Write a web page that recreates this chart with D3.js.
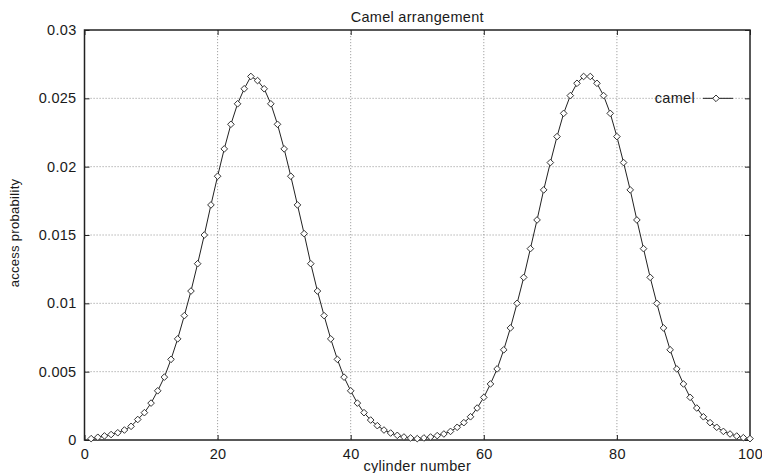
<!DOCTYPE html>
<html>
<head>
<meta charset="utf-8">
<script src="https://cdn.jsdelivr.net/npm/d3@7"></script>
<style>
    body { margin: 0; background: #fff; }
    .text { font-family: "Liberation Sans", Arial, Helvetica, sans-serif; fill: #1a1a1a; letter-spacing: 0.3px; }
    .grid line { stroke: #8a8a8a; stroke-width: 0.8; stroke-dasharray: 1.2, 1.8; }
</style>
</head>
<body>
<div id="chart"></div>
<script>
// Cylinder numbers 1..100
const cylinders = d3.range(1, 101);

// Access probability, cylinders 1..100
const camel = [
    0.0001, 0.0002, 0.0003, 0.0004, 0.00053, 0.00073, 0.001, 0.0015, 0.002, 0.0027,
    0.0036, 0.0046, 0.0059, 0.0074, 0.0091, 0.0109, 0.0129, 0.0150, 0.0172, 0.0193,
    0.0213, 0.0231, 0.0246, 0.0257, 0.0266, 0.0263, 0.0257, 0.0246, 0.0231, 0.0213,
    0.0193, 0.0172, 0.0151, 0.0129, 0.0109, 0.0091, 0.0074, 0.0059, 0.0046, 0.0036,
    0.0027, 0.0020, 0.00146, 0.00105, 0.00073, 0.00051, 0.00034, 0.00022, 0.00015, 0.0001,
    0.00015, 0.00022, 0.00032, 0.00044, 0.00063, 0.00093, 0.00127, 0.0017, 0.00234, 0.00312,
    0.0041, 0.0052, 0.0066, 0.0082, 0.0100, 0.0119, 0.0140, 0.0161, 0.0183, 0.0203,
    0.0222, 0.0239, 0.0252, 0.0261, 0.0266, 0.0266, 0.0261, 0.0252, 0.0239, 0.0222,
    0.0203, 0.0183, 0.0161, 0.0140, 0.0119, 0.0100, 0.0082, 0.0066, 0.0052, 0.0041,
    0.00312, 0.00234, 0.0017, 0.00127, 0.00093, 0.00063, 0.00044, 0.00029, 0.00017, 0.0001
];

// Tick values
const xTicks = [0, 20, 40, 60, 80, 100];
const yTicks = [0, 0.005, 0.01, 0.015, 0.02, 0.025, 0.03];
const yTickLabels = ["0", "0.005", "0.01", "0.015", "0.02", "0.025", "0.03"];

const data = cylinders.map((c, i) => ({ x: c, y: camel[i] }));

// Graph dimensions
const dimensions = {
    width: 762,
    height: 473,
    margins: { top: 30, right: 12, bottom: 33, left: 84.5 },
};
dimensions.bordWidth = dimensions.width - dimensions.margins.left - dimensions.margins.right;
dimensions.bordHeight = dimensions.height - dimensions.margins.top - dimensions.margins.bottom;

const xScale = d3.scaleLinear().domain([0, 100]).range([0, dimensions.bordWidth]);
const yScale = d3.scaleLinear().domain([0, 0.03]).range([dimensions.bordHeight, 0]);

const svg = d3.select("#chart")
    .append("svg")
    .attr("width", dimensions.width)
    .attr("height", dimensions.height);

const bounds = svg.append("g")
    .attr("transform", `translate(${dimensions.margins.left}, ${dimensions.margins.top})`);

// Dotted grid
const grid = bounds.append("g").attr("class", "grid");
grid.selectAll(".gx")
    .data(xTicks.slice(1, -1))
    .enter().append("line")
    .attr("x1", d => xScale(d)).attr("x2", d => xScale(d))
    .attr("y1", 0).attr("y2", dimensions.bordHeight);
grid.selectAll(".gy")
    .data(yTicks.slice(1, -1))
    .enter().append("line")
    .attr("x1", 0).attr("x2", dimensions.bordWidth)
    .attr("y1", d => yScale(d)).attr("y2", d => yScale(d));

// Axes with inward ticks
const xAxis = bounds.append("g")
    .attr("transform", `translate(0, ${dimensions.bordHeight})`)
    .call(d3.axisBottom(xScale).tickValues(xTicks).tickSizeInner(-5).tickSizeOuter(0).tickPadding(9));
const xAxisTop = bounds.append("g")
    .call(d3.axisTop(xScale).tickValues(xTicks).tickSizeInner(-5).tickSizeOuter(0).tickFormat(""));
const yAxis = bounds.append("g")
    .call(d3.axisLeft(yScale).tickValues(yTicks).tickSizeInner(-5).tickSizeOuter(0).tickPadding(8)
        .tickFormat((d, i) => yTickLabels[i]));
const yAxisRight = bounds.append("g")
    .attr("transform", `translate(${dimensions.bordWidth}, 0)`)
    .call(d3.axisRight(yScale).tickValues(yTicks).tickSizeInner(-5).tickSizeOuter(0).tickFormat(""));

[xAxis, xAxisTop, yAxis, yAxisRight].forEach(a => {
    a.select(".domain").remove();
    a.selectAll(".tick line").attr("stroke", "#222").attr("stroke-width", 1);
    a.selectAll(".tick text")
        .attr("class", "text")
        .style("font-size", "14.5px")
        .attr("fill", "#1a1a1a");
});

// Border
bounds.append("rect")
    .attr("width", dimensions.bordWidth)
    .attr("height", dimensions.bordHeight)
    .attr("fill", "none")
    .attr("stroke", "#222")
    .attr("stroke-width", 1.5);

// Line
const lineGenerator = d3.line()
    .x(d => xScale(d.x))
    .y(d => yScale(d.y));

bounds.append("path")
    .datum(data)
    .attr("d", lineGenerator)
    .attr("fill", "none")
    .attr("stroke", "#222")
    .attr("stroke-width", 1);

// Diamond markers
const diamond = d3.symbol().type(d3.symbolDiamond2).size(28);
bounds.selectAll(".pt")
    .data(data)
    .enter().append("path")
    .attr("d", diamond)
    .attr("transform", d => `translate(${xScale(d.x)}, ${yScale(d.y)})`)
    .attr("fill", "#fff")
    .attr("stroke", "#333")
    .attr("stroke-width", 1);

// Legend
const legend = bounds.append("g")
    .attr("transform", `translate(0, ${yScale(0.025)})`);
legend.append("text")
    .attr("x", 695 - dimensions.margins.left)
    .attr("y", 0)
    .attr("dy", "0.35em")
    .attr("text-anchor", "end")
    .attr("class", "text")
    .style("font-size", "14.5px")
    .text("camel");
legend.append("line")
    .attr("x1", 703 - dimensions.margins.left)
    .attr("x2", 733 - dimensions.margins.left)
    .attr("stroke", "#222")
    .attr("stroke-width", 1);
legend.append("path")
    .attr("d", diamond)
    .attr("transform", `translate(${716 - dimensions.margins.left}, 0)`)
    .attr("fill", "#fff")
    .attr("stroke", "#333")
    .attr("stroke-width", 1);

// Title and axis labels
svg.append("text")
    .attr("x", dimensions.margins.left + dimensions.bordWidth / 2)
    .attr("y", 22)
    .attr("text-anchor", "middle")
    .attr("class", "text")
    .style("font-size", "14.5px")
    .text("Camel arrangement");

svg.append("text")
    .attr("x", dimensions.margins.left + dimensions.bordWidth / 2)
    .attr("y", 471)
    .attr("text-anchor", "middle")
    .attr("class", "text")
    .style("font-size", "14.5px")
    .text("cylinder number");

svg.append("text")
    .attr("transform", `translate(19, ${dimensions.margins.top + dimensions.bordHeight / 2 - 2}) rotate(-90)`)
    .attr("text-anchor", "middle")
    .attr("class", "text")
    .style("font-size", "13px")
    .text("access probability");
</script>
</body>
</html>
